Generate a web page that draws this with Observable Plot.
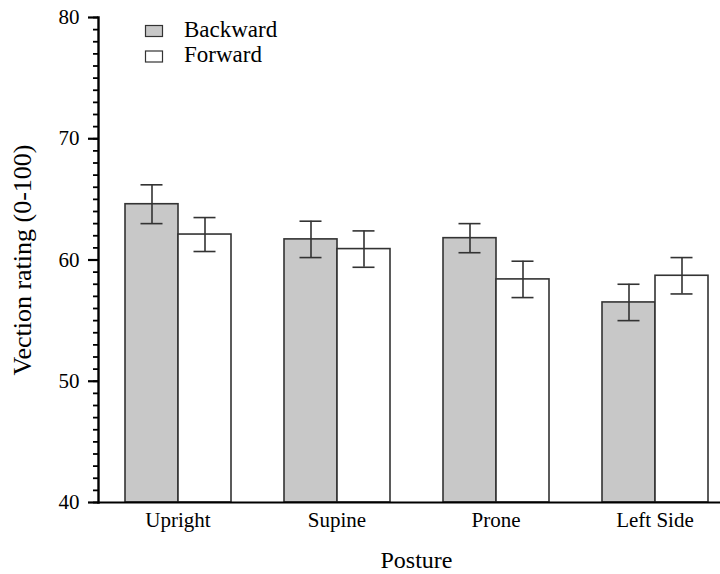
<!DOCTYPE html>
<html>
<head>
<meta charset="utf-8">
<script src="https://cdn.jsdelivr.net/npm/d3@7"></script>
<script src="https://cdn.jsdelivr.net/npm/@observablehq/plot@0.6"></script>
<style>
  html, body { margin: 0; padding: 0; background: #fff; }
  #wrap { width: 720px; height: 574px; overflow: hidden; }
</style>
</head>
<body>
<div id="wrap"></div>
<script>
const postures = ["Upright", "Supine", "Prone", "Left Side"];
const directions = ["Backward", "Forward"];
const directionColors = ["#c8c8c8", "#ffffff"];
const backwardMean = [64.6, 61.7, 61.8, 56.5];
const backwardErr = [1.6, 1.5, 1.2, 1.5];
const forwardMean = [62.1, 60.9, 58.4, 58.7];
const forwardErr = [1.4, 1.5, 1.5, 1.5];
const yMajorTicks = [40, 50, 60, 70, 80];
const yMinorTicks = d3.range(40, 81, 1);
const yLabel = "Vection rating (0-100)";
const xLabel = "Posture";

const rows = [];
postures.forEach((p, i) => {
  rows.push({posture: p, direction: "Backward", mean: backwardMean[i], err: backwardErr[i]});
  rows.push({posture: p, direction: "Forward", mean: forwardMean[i], err: forwardErr[i]});
});

const serif = "Liberation Serif";
const ink = "#333";

const chart = Plot.plot({
  width: 720,
  height: 574,
  marginTop: 17,
  marginBottom: 72,
  marginLeft: 97,
  marginRight: -15,
  style: {fontFamily: serif, fontSize: "21px", color: "#000", background: "#fff"},
  fx: {domain: postures, padding: 0, label: null},
  x: {domain: directions, paddingInner: 0, paddingOuter: 0.4928, axis: null},
  y: {domain: [40, 80], label: null},
  color: {domain: directions, range: directionColors},
  marks: [
    Plot.barY(rows, {fx: "posture", x: "direction", y1: 40, y2: "mean", fill: "direction", stroke: ink, strokeWidth: 1.6}),
    Plot.ruleX(rows, {fx: "posture", x: "direction", y1: d => d.mean - d.err, y2: d => d.mean + d.err, stroke: ink, strokeWidth: 1.6}),
    Plot.tickY(rows, {fx: "posture", x: "direction", y: d => d.mean - d.err, insetLeft: 15.5, insetRight: 15.5, stroke: ink, strokeWidth: 1.6}),
    Plot.tickY(rows, {fx: "posture", x: "direction", y: d => d.mean + d.err, insetLeft: 15.5, insetRight: 15.5, stroke: ink, strokeWidth: 1.6}),
    Plot.ruleY([40], {stroke: "#000", strokeWidth: 2.2}),
    Plot.axisY({ticks: yMinorTicks, tickSize: 5, tickFormat: () => "", label: null, stroke: "#000", strokeWidth: 1.8}),
    Plot.axisY({ticks: yMajorTicks, tickSize: 10, tickPadding: 9, label: null, stroke: "#000", strokeWidth: 2.2, fontFamily: serif, fontSize: 21, fill: "#000"}),
    Plot.frame({anchor: "left", facetAnchor: "left", stroke: "#000", strokeWidth: 2.4}),
    Plot.axisY({ticks: [], text: null, label: yLabel, labelArrow: "none", labelAnchor: "center", labelOffset: 86, fontFamily: serif, fontSize: 26, fill: "#000"}),
    Plot.axisFx({anchor: "bottom", tickSize: 0, tickPadding: 10, label: null, fontFamily: serif, fontSize: 21, fill: "#000"}),
    Plot.axisFx({anchor: "bottom", ticks: [], text: null, tickSize: 0, label: xLabel, labelArrow: "none", labelAnchor: "center", labelOffset: 65, fontFamily: serif, fontSize: 24, fill: "#000"})
  ]
});

// legend drawn inside the chart's own SVG
const ns = "http://www.w3.org/2000/svg";
const leg = document.createElementNS(ns, "g");
leg.setAttribute("aria-label", "legend");
leg.setAttribute("text-anchor", "start");
directions.forEach((d, i) => {
  const r = document.createElementNS(ns, "rect");
  r.setAttribute("x", 145.5);
  r.setAttribute("y", 25.5 + i * 25.5);
  r.setAttribute("width", 17);
  r.setAttribute("height", 11);
  r.setAttribute("fill", directionColors[i]);
  r.setAttribute("stroke", ink);
  r.setAttribute("stroke-width", 1.2);
  leg.appendChild(r);
  const t = document.createElementNS(ns, "text");
  t.setAttribute("x", 184);
  t.setAttribute("y", 37 + i * 25);
  t.setAttribute("text-anchor", "start");
  t.setAttribute("font-family", serif);
  t.setAttribute("font-size", 23);
  t.setAttribute("fill", "#000");
  t.textContent = d;
  leg.appendChild(t);
});
chart.appendChild(leg);

document.getElementById("wrap").appendChild(chart);
</script>
</body>
</html>
